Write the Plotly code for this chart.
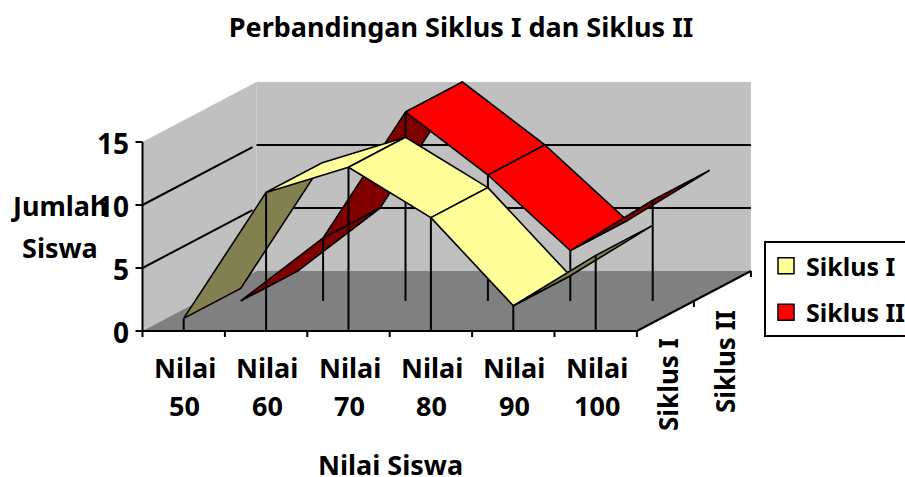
import plotly.graph_objects as go

categories = ["Nilai 50", "Nilai 60", "Nilai 70", "Nilai 80", "Nilai 90", "Nilai 100"]
siklus_1 = [1, 11, 13, 9, 2, 6]
siklus_2 = [0, 5, 15, 10, 4, 8]
y_ticks = [0, 5, 10, 15]
series_names = ["Siklus I", "Siklus II"]

W, H = 905, 477
X0, Y0 = 142.5, 331.0     # pixel of the front-left chart corner
CAT_W, UNIT_H = 82.4, 12.6  # pixels per category and per value unit
DEPTH_X, DEPTH_Y = 57.0, 30.0  # pixels per series slot in depth
FONT = "Noto Sans"
BLACK = "#000000"

n = len(categories)
x_range = [(0 - X0) / CAT_W, (W - X0) / CAT_W]
y_range = [(Y0 - H) / UNIT_H, Y0 / UNIT_H]


def proj(cat, val, depth=0.0):
    """Oblique projection into axis units (categories, value units)."""
    return cat + depth * DEPTH_X / CAT_W, val + depth * DEPTH_Y / UNIT_H


fig = go.Figure()


def poly(points, fill, line=None, width=0):
    xs = [p[0] for p in points]
    ys = [p[1] for p in points]
    fig.add_trace(go.Scatter(
        x=xs + xs[:1], y=ys + ys[:1], mode="lines", fill="toself", fillcolor=fill,
        line=dict(color=line or fill, width=width or 0.1),
        hoverinfo="skip", showlegend=False))


def segs(points, width=2.0, color=BLACK):
    xs, ys = [], []
    for a, b in points:
        xs += [a[0], b[0], None]
        ys += [a[1], b[1], None]
    fig.add_trace(go.Scatter(x=xs, y=ys, mode="lines", line=dict(color=color, width=width),
                             hoverinfo="skip", showlegend=False))


ymax = y_ticks[-1]
# walls and floor
poly([proj(0, 0), proj(0, ymax), proj(0, ymax, 2), proj(0, 0, 2)], "#C0C0C0")
poly([proj(0, 0, 2), proj(0, ymax, 2), proj(n, ymax, 2), proj(n, 0, 2)], "#C0C0C0")
poly([proj(0, 0), proj(n, 0), proj(n, 0, 2), proj(0, 0, 2)], "#808080")

# gridlines
grid = []
for t in y_ticks[1:-1]:
    grid.append((proj(0, t), proj(0, t, 1.93)))
    grid.append((proj(0, t, 2), proj(n, t, 2)))
segs(grid, 2.0)


def ribbon(values, depth, top, under):
    for i in range(n - 1):
        a = (i + 0.5, values[i])
        b = (i + 1.5, values[i + 1])
        # pixel slope of the edge against pixel slope of depth picks the visible side
        rise = (b[1] - a[1]) * UNIT_H / CAT_W
        colour = under if rise > DEPTH_Y / DEPTH_X else top
        poly([proj(*a, depth), proj(*b, depth), proj(*b, depth + 1), proj(*a, depth + 1)],
             colour, BLACK, 1.6)
    drops = [(proj(i + 0.5, values[i], depth), proj(i + 0.5, 0, depth))
             for i in range(n) if values[i] > 0]
    segs(drops, 2.0)


ribbon(siklus_2, 1, "#FF0000", "#800000")
ribbon(siklus_1, 0, "#FFFF99", "#808050")

# axes and ticks (pixel lengths converted to axis units)
tick_dx = 7 / CAT_W
tick_dy = 6 / UNIT_H
ax = [(proj(0, 0), proj(0, ymax)), (proj(0, 0), proj(n, 0)), (proj(n, 0), proj(n, 0, 2))]
ax += [((-tick_dx, t), (0, t)) for t in y_ticks]
ax += [((i, 0), (i, -tick_dy)) for i in range(n + 1)]
for d in (1, 2):
    p = proj(n, 0, d)
    ax.append((p, (p[0], p[1] - tick_dy)))
segs(ax, 2.0)

# legend entries
for name, colour in zip(series_names, ["#FFFF99", "#FF0000"]):
    fig.add_trace(go.Scatter(
        x=[None], y=[None], mode="markers", name=name, legendgroup=name,
        marker=dict(symbol="square", size=16, color=colour, line=dict(color=BLACK, width=1.5))))

ann = []


def lp(x, y, text, size, angle=0, xanchor="center", height=None):
    ann.append(dict(text=text, x=x / W, y=1 - y / H, xref="paper", yref="paper", xanchor=xanchor,
                    yanchor="middle", showarrow=False, textangle=angle, height=height,
                    font=dict(family=FONT, size=size, color=BLACK, weight="bold")))


for t in y_ticks:
    lp(131, Y0 - t * UNIT_H + 1, str(t), 28, xanchor="right")
for i, c in enumerate(categories):
    w1, w2 = c.split(" ")
    cx = X0 + (i + 0.5) * CAT_W + 1
    lp(cx, 367, w1, 27)
    lp(cx, 405, w2, 27)
lp(59, 205, "Jumlah", 27)
lp(60, 248, "Siswa", 27)
lp(390, 464, "Nilai Siswa", 27, height=26)
lp(668, 385, series_names[0], 26, -90)
lp(725, 362, series_names[1], 26, -90)

fig.update_layout(
    width=W, height=H, margin=dict(l=0, r=0, t=0, b=0, autoexpand=False),
    paper_bgcolor="#FFFFFF", plot_bgcolor="#FFFFFF",
    xaxis=dict(range=x_range, visible=False, fixedrange=True),
    yaxis=dict(range=y_range, visible=False, fixedrange=True),
    title=dict(text="Perbandingan Siklus I dan Siklus II", x=461 / W, y=1 - 28 / H, xanchor="center",
               yanchor="middle", font=dict(family=FONT, size=27, color=BLACK, weight="bold")),
    legend=dict(x=764 / W, y=1 - 241 / H, xanchor="left", yanchor="top", borderwidth=2, bordercolor=BLACK,
                bgcolor="#FFFFFF", font=dict(family=FONT, size=25, color=BLACK, weight="bold"),
                itemwidth=30, tracegroupgap=11),
    annotations=ann,
)
fig.write_html("out.html", config={"displayModeBar": False},
               post_script="document.body.style.margin='0';document.body.style.overflow='hidden';")
